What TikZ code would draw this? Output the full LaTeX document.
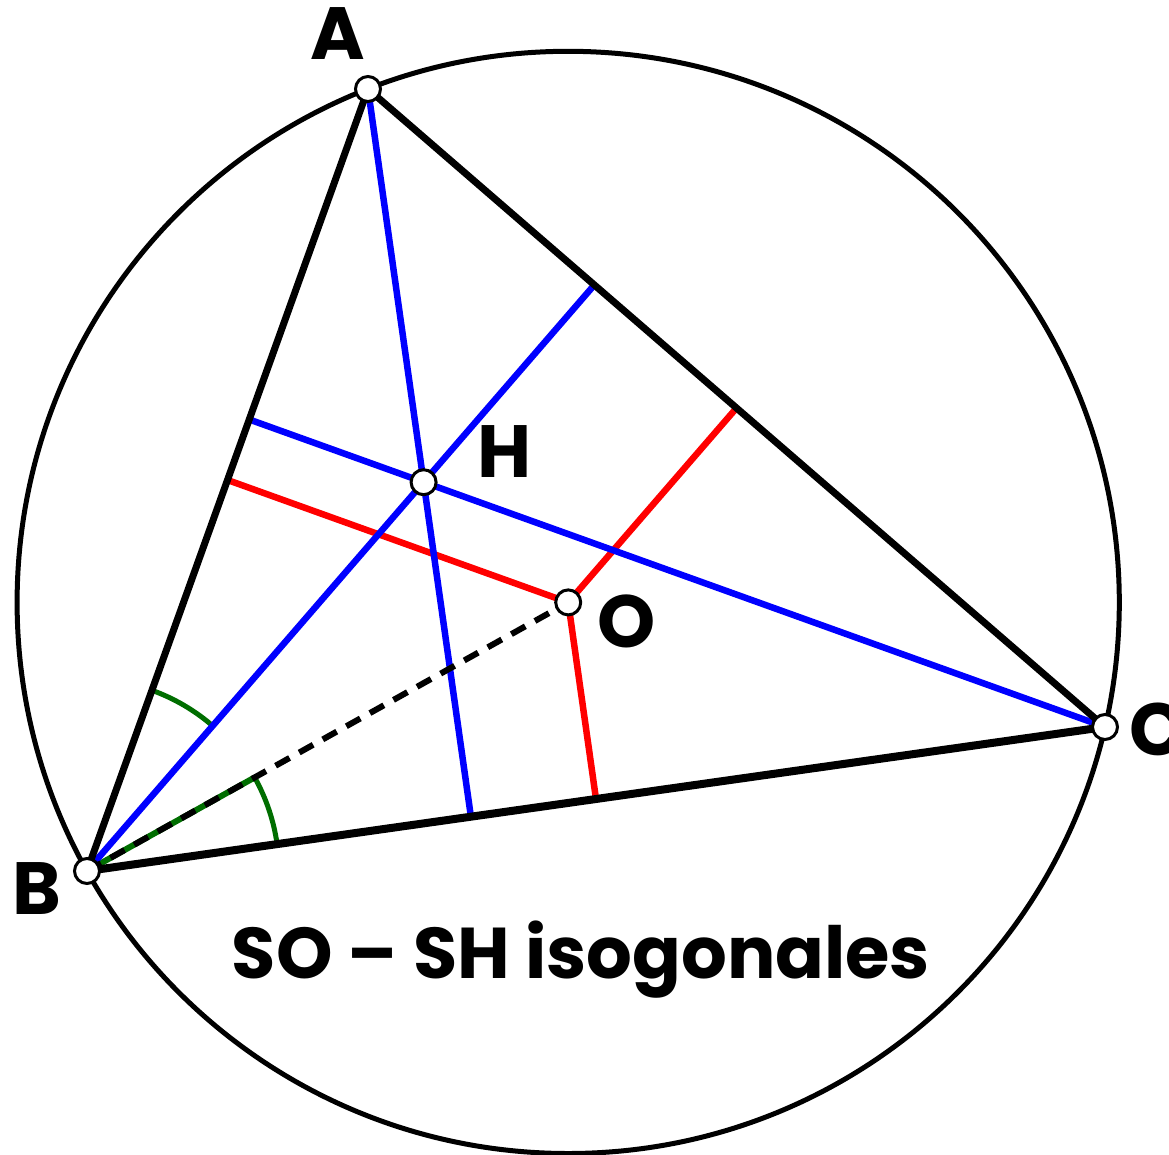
\documentclass[tikz,border=0pt]{standalone}
\usepackage{fontspec}
\setmainfont{Poppins}
\usepackage{graphicx}
\usetikzlibrary{calc,angles}
\definecolor{angg}{RGB}{0,110,0}
\tikzset{
  pt/.style={circle,draw=black,fill=white,line width=3pt,minimum size=25pt,inner sep=0pt},
  lab/.style={font=\fontsize{74}{80}\selectfont\bfseries,inner sep=0pt},
  tri/.style={line width=7pt,line cap=round},
  alt/.style={blue,line width=6.5pt},
  med/.style={red,line width=6.5pt},
  angarc/.style={draw=angg,line width=5pt,angle radius=192pt}
}
\begin{document}
\begin{tikzpicture}[x=1pt,y=-1pt]
\useasboundingbox (0,0) rectangle (1169,1155);
\coordinate (A) at (368,89);
\coordinate (B) at (87,871);
\coordinate (C) at (1105,727);
\coordinate (O) at (568.2,602.4);
\coordinate (H) at (423.6,482.2);
\coordinate (Ha) at ($(B)!(A)!(C)$);
\coordinate (Hb) at ($(A)!(B)!(C)$);
\coordinate (Hc) at ($(A)!(C)!(B)$);
\coordinate (Ma) at ($(B)!0.5!(C)$);
\coordinate (Mb) at ($(A)!0.5!(C)$);
\coordinate (Mc) at ($(A)!0.5!(B)$);
\coordinate (G) at ($(B)!192pt!(O)$);
% circumcircle
\draw[line width=5pt] (O) circle[radius=551.1pt];
% angle marks
\pic[angarc] {angle=H--B--A};
\pic[angarc] {angle=C--B--O};
\draw[angg,line width=6pt] (B) -- (G);
% perpendicular bisectors (red)
\draw[med] (Mc) -- (O);
\draw[med] (Mb) -- (O);
\draw[med] (Ma) -- (O);
% altitudes (blue)
\draw[alt] (A) -- (Ha);
\draw[alt] (B) -- (Hb);
\draw[alt] (C) -- (Hc);
% dashed BO
\draw[line width=6pt,dash pattern=on 16pt off 11pt] (B) -- (O);
% triangle
\draw[tri] (A) -- (C);
\draw[tri] (A) -- (B);
\draw[tri,line width=8pt] (B) -- (C);
% points
\node[pt] (pA) at (A) {};
\node[pt] (pB) at (B) {};
\node[pt] (pC) at (C) {};
\node[pt] (pO) at (O) {};
\node[pt] (pH) at (H) {};
% labels
\node[lab] (lA) at (338,34) {A};
\node[lab] (lB) at (37,889) {B};
\node[lab] (lC) at (1158,729) {C};
\node[lab] (lH) at (505,452) {H};
\node[lab] (lO) at (627,621) {O};
\node[inner sep=0pt] (title) at (581,960) {\resizebox{698pt}{!}{\fontsize{74}{80}\selectfont\bfseries SO – SH isogonales}};
\end{tikzpicture}
\end{document}
